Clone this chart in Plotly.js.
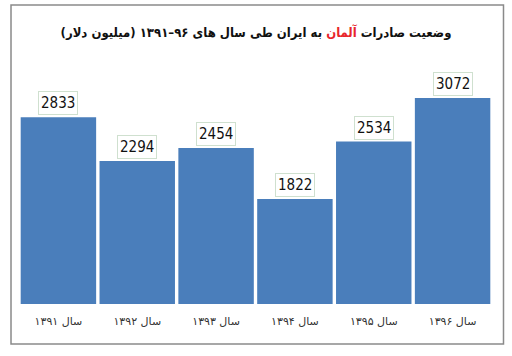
<!DOCTYPE html>
<html>
<head>
<meta charset="utf-8">
<script src="https://cdn.plot.ly/plotly-3.0.1.min.js"></script>
<style>
html,body{margin:0;padding:0;background:#fff;}
#chart{width:512px;height:356px;}
#chart .gtitle{direction:rtl;}
</style>
</head>
<body>
<div id="chart"></div>
<script>
const categories = ['سال ۱۳۹۱','سال ۱۳۹۲','سال ۱۳۹۳','سال ۱۳۹۴','سال ۱۳۹۵','سال ۱۳۹۶'];
const values = [2833, 2294, 2454, 1822, 2534, 3072];
const titleText = 'وضعیت صادرات <span style="color:#e8262c">آلمان</span> به ایران طی سال های ۹۶–۱۳۹۱ (میلیون دلار)';

const trace = {
  type: 'bar',
  x: categories,
  y: values,
  marker: {color: '#4a7ebb'},
  hoverinfo: 'skip'
};

const annotations = categories.map((c, i) => ({
  x: c, y: values[i], xref: 'x', yref: 'y',
  text: String(values[i]),
  showarrow: false,
  yanchor: 'bottom',
  yshift: 2,
  font: {family: '"Liberation Sans Narrow", "DejaVu Sans Condensed", sans-serif', size: 15, color: '#111'},
  bgcolor: '#ffffff',
  bordercolor: '#cfe0cf',
  borderwidth: 1,
  borderpad: 2
}));

const layout = {
  width: 512, height: 356,
  margin: {l: 19, r: 19.5, t: 60, b: 52},
  paper_bgcolor: '#ffffff',
  plot_bgcolor: '#ffffff',
  bargap: 0.043,
  showlegend: false,
  title: {
    text: titleText,
    font: {family: '"DejaVu Sans Condensed", "DejaVu Sans", sans-serif', size: 13, color: '#111', weight: 'bold'},
    x: 0.5, xanchor: 'center',
    y: 1 - 32/356, yanchor: 'middle', yref: 'container'
  },
  xaxis: {
    type: 'category',
    showgrid: false, zeroline: false, showline: false,
    ticks: '', ticklabelstandoff: 9,
    tickfont: {family: '"DejaVu Sans", sans-serif', size: 11, color: '#333'}
  },
  yaxis: {
    range: [523, 3543],
    visible: false, showgrid: false, zeroline: false, fixedrange: true
  },
  annotations: annotations,
  shapes: [{
    type: 'rect', xref: 'paper', yref: 'paper',
    x0: -0.0169, x1: 1.0243, y0: -0.164, y1: 1.2254,
    line: {color: '#8a8a8a', width: 1.5},
    fillcolor: 'rgba(0,0,0,0)',
    layer: 'below'
  }]
};

Plotly.newPlot('chart', [trace], layout, {displayModeBar: false, staticPlot: true});
</script>
</body>
</html>
